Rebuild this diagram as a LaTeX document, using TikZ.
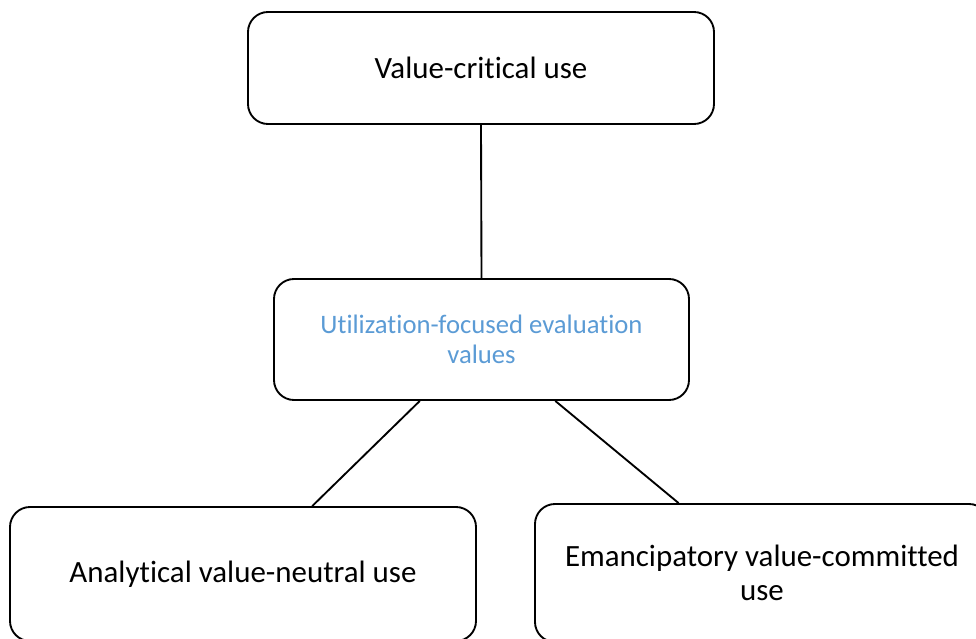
\documentclass[tikz,border=0pt]{standalone}
\usepackage{fontspec}
\setmainfont{Carlito}[Ligatures=NoCommon]
\usetikzlibrary{positioning, calc}
\definecolor{uvblue}{RGB}{91,155,213}

\begin{document}
\begin{tikzpicture}[x=0.75pt,y=-0.75pt,
  usebox/.style={draw=black, line width=1.4pt, rounded corners=15pt, align=center, inner sep=0pt},
  link/.style={line width=1.4pt}]
  \clip (0,0) rectangle (976,639);

  \node [usebox, minimum width=349.5pt, minimum height=84pt, font=\fontsize{23.2}{27}\selectfont] (critical) at (481,68) {Value-critical use};

  \node [usebox, minimum width=311.25pt, minimum height=90.75pt, text=uvblue, font=\fontsize{20}{22.5}\selectfont] (ufe) at (481.5,339.5) {Utilization-focused evaluation\\values};

  \node [usebox, minimum width=349.5pt, minimum height=100.5pt, font=\fontsize{23.2}{27}\selectfont] (neutral) at (243,574) {Analytical value-neutral use};
  \node [usebox, minimum width=340.5pt, minimum height=103.5pt, font=\fontsize{23.2}{25.5}\selectfont] (committed) at (762,573) {Emancipatory value-committed\\use};

  % connectors
  \draw[link] (critical.south) -- (ufe.north);
  \draw[link] ($(ufe.south west)!0.352!(ufe.south east)$) -- ($(neutral.north west)!0.648!(neutral.north east)$);
  \draw[link] ($(ufe.south west)!0.677!(ufe.south east)$) -- ($(committed.north west)!0.317!(committed.north east)$);
\end{tikzpicture}
\end{document}
